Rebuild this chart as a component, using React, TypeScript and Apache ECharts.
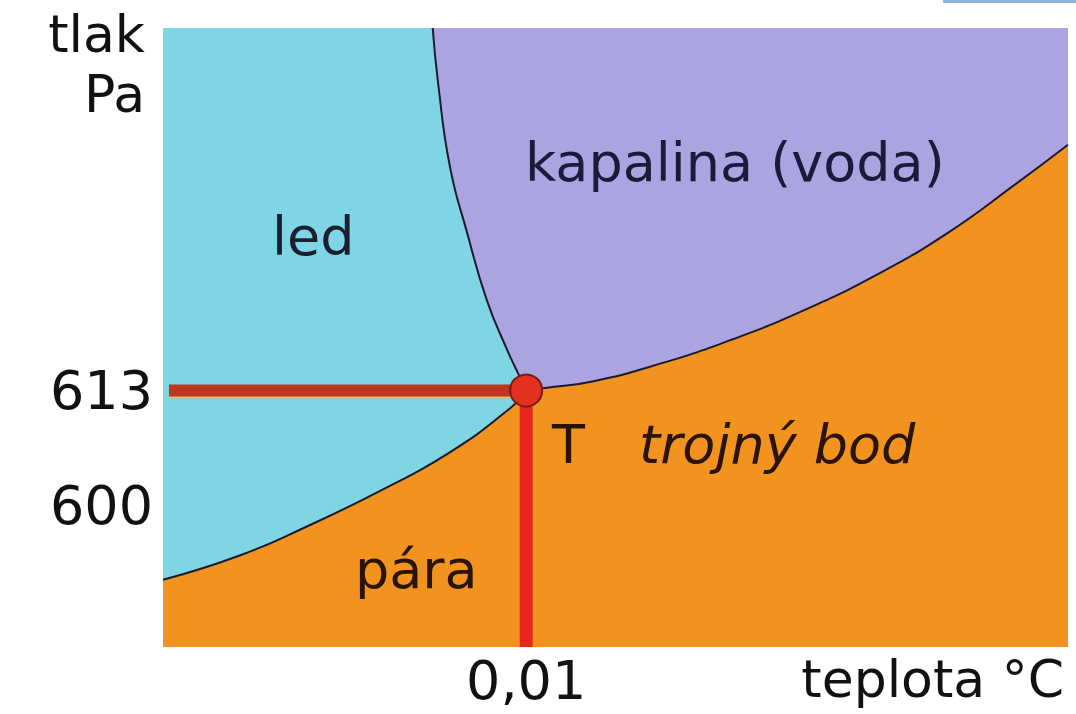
import React, { useEffect, useRef } from "react";
import * as echarts from "echarts";

// ---- data ----
const temperatureRange = [-0.6, 0.92];
const pressureRange = [584, 654];
const temperatureTicks = [0.01];
const pressureTicks = [600, 613];
const axisNames = ["teplota °C", "tlak\nPa"];

// melting curve (ice | liquid)
const meltingT = [-0.147, -0.138, -0.118, -0.089, -0.056, -0.022, -0.004, 0.01];
const meltingP = [654, 647.8, 638.3, 630.8, 623.2, 617.6, 615.0, 613];
// sublimation curve (ice | vapour)
const sublimationT = [-0.6, -0.469, -0.353, -0.237, -0.121, -0.017, 0.01];
const sublimationP = [591.6, 594.4, 597.8, 601.6, 605.9, 611.0, 613];
// vaporisation curve (liquid | vapour)
const vaporT = [0.01, 0.042, 0.119, 0.238, 0.357, 0.477, 0.596, 0.715, 0.833, 0.92];
const vaporP = [613, 613.3, 614.0, 616.1, 618.8, 622.1, 626.0, 630.7, 636.4, 640.8];
// ice block left of the melting curve's top
const iceTopT = [-0.6, -0.145];
const iceTopP = [654, 654];
// triple point and its guide lines
const tripleT = 0.01;
const tripleP = 613;
const guideStartT = -0.59;

const regionLabels = ["led", "kapalina (voda)", "pára", "T", "trojný bod"];

const zip = (xs: number[], ys: number[]) => xs.map((x, i) => [x, ys[i]]);

const ICE = "#80d5e5";
const LIQUID = "#aba4e0";
const VAPOUR = "#f29320";
const CURVE = "#1c1a30";
const FONT = "DejaVu Sans";

export default function App() {
  const ref = useRef<HTMLDivElement>(null);

  useEffect(() => {
    if (!ref.current) return;
    const chart = echarts.init(ref.current, undefined, { renderer: "svg" });

    const textStyle = (color: string, italic = false) => ({
      fill: color,
      fontFamily: FONT,
      fontSize: 54,
      fontStyle: italic ? "italic" : "normal",
      verticalAlign: "middle",
      align: "left",
    });

    const curveSeries = (t: number[], p: number[], fill: string) => ({
      type: "line",
      data: zip(t, p),
      symbol: "none",
      smooth: 0.5,
      lineStyle: { color: CURVE, width: 2 },
      areaStyle: { color: fill, opacity: 1, origin: "start" },
      silent: true,
    });

    chart.setOption({
      animation: false,
      backgroundColor: "#ffffff",
      grid: {
        left: 163,
        top: 28,
        width: 905,
        height: 619,
        show: true,
        backgroundColor: LIQUID,
        borderWidth: 0,
      },
      xAxis: {
        type: "value",
        min: temperatureRange[0],
        max: temperatureRange[1],
        name: axisNames[0],
        nameLocation: "end",
        nameGap: 0,
        nameTextStyle: {
          fontFamily: FONT,
          fontSize: 52,
          color: "#111",
          align: "right",
          verticalAlign: "top",
          padding: [6, 4, 0, 0],
        },
        axisLine: { show: false, onZero: false },
        axisTick: { show: false },
        splitLine: { show: false },
        axisLabel: {
          customValues: temperatureTicks,
          formatter: (v: number) => String(v).replace(".", ","),
          fontFamily: FONT,
          fontSize: 54,
          color: "#111",
          margin: 6,
        },
      },
      yAxis: {
        type: "value",
        min: pressureRange[0],
        max: pressureRange[1],
        name: axisNames[1],
        nameLocation: "end",
        nameGap: 24,
        nameTextStyle: {
          fontFamily: FONT,
          fontSize: 52,
          lineHeight: 60,
          color: "#111",
          align: "right",
          verticalAlign: "top",
          padding: [0, 18, 0, 0],
        },
        axisLine: { show: false, onZero: false },
        axisTick: { show: false },
        splitLine: { show: false },
        axisLabel: {
          customValues: pressureTicks,
          fontFamily: FONT,
          fontSize: 54,
          color: "#111",
          margin: 10,
        },
      },
      series: [
        {
          type: "line",
          data: zip(iceTopT, iceTopP),
          symbol: "none",
          lineStyle: { width: 0 },
          areaStyle: { color: ICE, opacity: 1, origin: "start" },
          silent: true,
        },
        curveSeries(meltingT, meltingP, ICE),
        curveSeries(sublimationT, sublimationP, VAPOUR),
        curveSeries(vaporT, vaporP, VAPOUR),
        {
          // pale edge under the 613 Pa guide
          type: "line",
          data: [
            [guideStartT, tripleP - 0.7],
            [tripleT, tripleP - 0.7],
          ],
          symbol: "none",
          lineStyle: { color: "#e9b86a", width: 3, cap: "butt" },
          silent: true,
        },
        {
          type: "line",
          data: [
            [guideStartT, tripleP],
            [tripleT, tripleP],
          ],
          symbol: "none",
          lineStyle: { color: "#bd3620", width: 12, cap: "butt" },
          silent: true,
        },
        {
          type: "line",
          data: [
            [tripleT, pressureRange[0]],
            [tripleT, tripleP],
          ],
          symbol: "none",
          lineStyle: { color: "#e6261b", width: 13, cap: "butt" },
          silent: true,
        },
        {
          type: "scatter",
          data: [[tripleT, tripleP]],
          symbol: "circle",
          symbolSize: 32,
          itemStyle: {
            color: "#e2311e",
            borderColor: "#7a1c12",
            borderWidth: 2,
            opacity: 1,
          },
          z: 5,
          silent: true,
        },
      ],
      graphic: [
        {
          type: "rect",
          shape: { x: 943, y: 0, width: 133, height: 3 },
          style: { fill: "#8fb2d6" },
          z: 100,
          silent: true,
        },
        { type: "text", x: 272, y: 236, z: 100, style: { text: regionLabels[0], ...textStyle("#1b2030") }, silent: true },
        { type: "text", x: 525, y: 162, z: 100, style: { text: regionLabels[1], ...textStyle("#1c1a3a") }, silent: true },
        { type: "text", x: 355, y: 569, z: 100, style: { text: regionLabels[2], ...textStyle("#2a1408") }, silent: true },
        { type: "text", x: 552, y: 444, z: 100, style: { text: regionLabels[3], ...textStyle("#2a1408") }, silent: true },
        { type: "text", x: 639, y: 444, z: 100, style: { text: regionLabels[4], ...textStyle("#2a1408", true) }, silent: true },
      ],
    });

    return () => chart.dispose();
  }, []);

  return (
    <div
      ref={ref}
      style={{ position: "absolute", left: 0, top: 0, width: 1076, height: 714, background: "#fff" }}
    />
  );
}
